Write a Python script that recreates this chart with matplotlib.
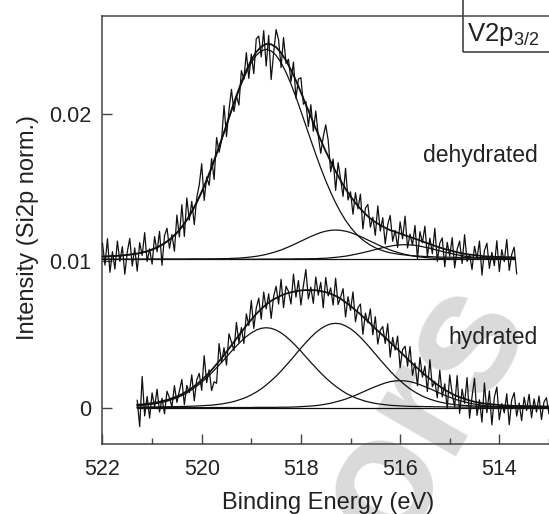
"""V2p3/2 XPS spectra (dehydrated / hydrated) with fitted components."""
import numpy as np
import matplotlib
matplotlib.use("Agg")
import matplotlib.pyplot as plt
from matplotlib.patches import Rectangle

plt.rcParams["font.family"] = ["Liberation Sans", "DejaVu Sans"]
plt.rcParams["mathtext.fontset"] = "custom"
plt.rcParams["mathtext.rm"] = "Liberation Sans"

SCALE = 1e-3  # all intensities below are in units of 1e-3 (Si2p norm.)

# ---- dehydrated: fit grid 522.0 -> 513.7 eV (0.1 eV), data 522.00 -> 513.65 eV (0.05 eV)
dehyd_fit_range = (522.0, 513.7)
dehyd_data_range = (522.0, 513.65)
dehyd_baseline = 10.1
dehyd_peak1 = [0.19, 0.20, 0.22, 0.24, 0.26, 0.30, 0.34, 0.39, 0.45, 0.54,
               0.65, 0.79, 0.97, 1.19, 1.46, 1.79, 2.19, 2.66, 3.21, 3.85,
               4.57, 5.36, 6.22, 7.15, 8.12, 9.10, 10.09, 11.05, 11.94, 12.73,
               13.39, 13.89, 14.19, 14.30, 14.19, 13.89, 13.39, 12.73, 11.94, 11.05,
               10.09, 9.10, 8.12, 7.15, 6.22, 5.36, 4.57, 3.85, 3.21, 2.66,
               2.19, 1.79, 1.46, 1.19, 0.97, 0.79, 0.65, 0.54, 0.45, 0.39,
               0.34, 0.30, 0.26, 0.24, 0.22, 0.20, 0.19, 0.17, 0.16, 0.15,
               0.15, 0.14, 0.13, 0.13, 0.12, 0.12, 0.11, 0.11, 0.10, 0.10,
               0.10, 0.09, 0.09, 0.08]
dehyd_peak2 = [0.01, 0.01, 0.01, 0.01, 0.01, 0.01, 0.01, 0.01, 0.02, 0.02,
               0.02, 0.02, 0.02, 0.02, 0.02, 0.02, 0.02, 0.02, 0.03, 0.03,
               0.03, 0.03, 0.04, 0.04, 0.05, 0.05, 0.07, 0.08, 0.10, 0.13,
               0.17, 0.21, 0.27, 0.34, 0.43, 0.53, 0.64, 0.78, 0.92, 1.08,
               1.24, 1.40, 1.56, 1.70, 1.83, 1.92, 1.98, 2.00, 1.98, 1.92,
               1.83, 1.70, 1.56, 1.40, 1.24, 1.08, 0.92, 0.78, 0.64, 0.53,
               0.43, 0.34, 0.27, 0.21, 0.17, 0.13, 0.10, 0.08, 0.07, 0.05,
               0.05, 0.04, 0.04, 0.03, 0.03, 0.03, 0.03, 0.02, 0.02, 0.02,
               0.02, 0.02, 0.02, 0.02]
dehyd_peak3 = [0.00, 0.00, 0.00, 0.00, 0.00, 0.00, 0.00, 0.00, 0.00, 0.00,
               0.01, 0.01, 0.01, 0.01, 0.01, 0.01, 0.01, 0.01, 0.01, 0.01,
               0.01, 0.01, 0.01, 0.01, 0.01, 0.01, 0.01, 0.01, 0.01, 0.01,
               0.01, 0.01, 0.02, 0.02, 0.02, 0.02, 0.03, 0.03, 0.03, 0.04,
               0.04, 0.04, 0.05, 0.05, 0.07, 0.08, 0.11, 0.14, 0.18, 0.22,
               0.28, 0.35, 0.42, 0.50, 0.58, 0.67, 0.76, 0.83, 0.90, 0.96,
               0.99, 1.00, 0.99, 0.96, 0.90, 0.83, 0.76, 0.67, 0.58, 0.50,
               0.42, 0.35, 0.28, 0.22, 0.18, 0.14, 0.11, 0.08, 0.07, 0.05,
               0.05, 0.04, 0.04, 0.03]
dehyd_data = [11.20, 9.71, 11.51, 9.22, 10.63, 9.44, 11.35, 9.96, 10.97, 9.09,
              10.61, 11.53, 9.65, 10.88, 9.30, 11.24, 10.37, 11.92, 9.96, 10.82,
              9.78, 11.65, 10.62, 12.01, 9.70, 11.71, 12.22, 10.86, 11.79, 10.66,
              13.12, 11.62, 13.82, 11.66, 14.29, 12.77, 14.05, 12.47, 14.29, 15.15,
              16.61, 14.11, 15.70, 15.14, 16.97, 15.54, 18.40, 17.39, 18.18, 20.57,
              18.46, 20.27, 21.67, 20.16, 21.24, 20.60, 22.95, 22.36, 24.17, 22.42,
              24.07, 22.74, 25.11, 25.30, 23.88, 25.67, 23.26, 25.35, 22.34, 24.14,
              25.74, 25.05, 23.16, 25.20, 23.44, 23.72, 22.19, 23.53, 21.07, 22.37,
              22.47, 20.66, 20.84, 19.14, 20.63, 18.82, 20.20, 18.51, 17.32, 18.44,
              19.26, 18.21, 16.06, 16.93, 14.79, 16.68, 15.57, 14.39, 16.30, 14.15,
              14.70, 13.17, 14.64, 13.54, 14.54, 12.17, 13.59, 13.84, 12.29, 12.97,
              11.74, 13.74, 12.03, 12.94, 11.15, 12.47, 13.09, 11.34, 12.08, 10.92,
              12.66, 11.50, 13.04, 10.88, 11.82, 11.07, 12.41, 10.15, 11.99, 11.23,
              12.36, 10.31, 11.55, 10.49, 12.22, 9.97, 11.21, 11.56, 9.60, 11.26,
              10.32, 11.58, 9.53, 10.79, 11.35, 9.82, 11.78, 9.96, 10.43, 9.41,
              10.99, 10.17, 11.35, 9.03, 10.71, 11.20, 9.49, 10.58, 9.67, 11.37,
              9.27, 10.76, 9.95, 11.45, 9.35, 10.44, 10.93, 9.12]

# ---- hydrated: fit grid 521.3 -> 512.8 eV (0.1 eV), data 521.30 -> 512.80 eV (0.05 eV)
hyd_fit_range = (521.3, 512.8)
hyd_data_range = (521.3, 512.8)
hyd_baseline = 0.0
hyd_peak1 = [0.15, 0.17, 0.21, 0.25, 0.30, 0.37, 0.45, 0.56, 0.68, 0.83,
             1.01, 1.23, 1.47, 1.74, 2.04, 2.37, 2.73, 3.09, 3.47, 3.85,
             4.21, 4.55, 4.85, 5.10, 5.29, 5.41, 5.45, 5.41, 5.29, 5.10,
             4.85, 4.55, 4.21, 3.85, 3.47, 3.09, 2.73, 2.37, 2.04, 1.74,
             1.47, 1.23, 1.01, 0.83, 0.68, 0.56, 0.45, 0.37, 0.30, 0.25,
             0.21, 0.17, 0.15, 0.13, 0.11, 0.10, 0.09, 0.09, 0.08, 0.08,
             0.07, 0.07, 0.06, 0.06, 0.05, 0.05, 0.05, 0.05, 0.04, 0.04,
             0.04, 0.04, 0.04, 0.03, 0.03, 0.03, 0.03, 0.03, 0.03, 0.03,
             0.03, 0.02, 0.02, 0.02, 0.02, 0.02]
hyd_peak2 = [0.05, 0.05, 0.05, 0.06, 0.06, 0.07, 0.07, 0.08, 0.08, 0.09,
             0.10, 0.11, 0.12, 0.14, 0.16, 0.18, 0.22, 0.26, 0.32, 0.39,
             0.48, 0.59, 0.72, 0.88, 1.07, 1.29, 1.55, 1.84, 2.15, 2.50,
             2.88, 3.26, 3.66, 4.06, 4.44, 4.80, 5.12, 5.38, 5.58, 5.71,
             5.75, 5.71, 5.58, 5.38, 5.12, 4.80, 4.44, 4.06, 3.66, 3.26,
             2.88, 2.50, 2.15, 1.84, 1.55, 1.29, 1.07, 0.88, 0.72, 0.59,
             0.48, 0.39, 0.32, 0.26, 0.22, 0.18, 0.16, 0.14, 0.12, 0.11,
             0.10, 0.09, 0.08, 0.08, 0.07, 0.07, 0.06, 0.06, 0.06, 0.06,
             0.05, 0.05, 0.05, 0.05, 0.04, 0.04]
hyd_peak3 = [0.01, 0.01, 0.01, 0.01, 0.01, 0.01, 0.01, 0.01, 0.01, 0.01,
             0.01, 0.01, 0.01, 0.01, 0.01, 0.02, 0.02, 0.02, 0.02, 0.02,
             0.02, 0.02, 0.02, 0.02, 0.03, 0.03, 0.03, 0.03, 0.03, 0.04,
             0.04, 0.05, 0.06, 0.08, 0.10, 0.12, 0.15, 0.19, 0.25, 0.31,
             0.40, 0.49, 0.59, 0.72, 0.85, 1.00, 1.15, 1.30, 1.44, 1.57,
             1.69, 1.78, 1.83, 1.85, 1.83, 1.78, 1.69, 1.57, 1.44, 1.30,
             1.15, 1.00, 0.85, 0.72, 0.59, 0.49, 0.40, 0.31, 0.25, 0.19,
             0.15, 0.12, 0.10, 0.08, 0.06, 0.05, 0.04, 0.04, 0.03, 0.03,
             0.03, 0.03, 0.02, 0.02, 0.02, 0.02]
hyd_data = [0.51, -1.28, 2.13, -0.55, 0.77, -0.70, 1.02, 0.05, 1.27, -0.29,
            0.65, -0.41, 1.13, 0.69, 0.05, 1.51, 0.37, 1.15, 1.93, 0.22,
            1.52, 1.03, 2.25, 0.47, 1.90, 2.34, 1.19, 3.55, 1.71, 2.59,
            1.17, 1.77, 1.67, 4.37, 3.07, 4.09, 2.91, 5.04, 4.46, 3.89,
            5.81, 4.44, 5.46, 4.38, 6.39, 5.60, 7.30, 5.40, 6.79, 7.46,
            6.03, 7.88, 6.73, 7.76, 6.08, 7.58, 8.27, 7.06, 8.74, 6.81,
            8.27, 7.92, 7.06, 9.10, 7.53, 8.66, 6.99, 8.30, 9.41, 7.41,
            8.21, 7.11, 8.90, 7.67, 8.54, 6.81, 8.87, 7.62, 8.16, 6.99,
            8.82, 7.03, 7.53, 8.11, 6.18, 7.56, 6.63, 7.89, 5.85, 6.81,
            7.06, 5.00, 6.44, 5.79, 6.73, 4.97, 6.20, 4.34, 5.28, 5.53,
            4.38, 5.72, 3.45, 4.79, 3.93, 4.88, 2.72, 3.96, 4.19, 2.83,
            4.17, 2.21, 3.05, 1.50, 3.44, 2.09, 2.84, 1.11, 3.27, 1.44,
            1.80, 0.68, 2.56, 0.75, 1.63, -0.06, 2.24, 0.95, 0.06, 2.19,
            -0.38, 1.27, 0.31, 2.06, -0.70, 0.76, 2.01, -0.52, 0.54, -0.98,
            1.69, -0.33, 1.15, -1.16, 0.72, 1.41, -0.81, 0.28, -0.34, 0.96,
            -1.15, 0.54, 1.03, -0.57, 0.33, -0.87, 0.72, -0.18, 0.92, -0.68,
            0.61, -0.29, 0.80, -0.80, 0.39, 0.69, -0.41, 0.99, -0.52, 0.28, -0.22]

x_ticks = [522, 520, 518, 516, 514]
x_minor = [521, 519, 517, 515, 513]
y_ticks = [0, 0.01, 0.02]
y_ticklabels = ["0", "0.01", "0.02"]


def draw_spectrum(ax, fit_range, data_range, baseline, peaks, data):
    e_fit = np.linspace(*fit_range, len(peaks[0]))
    e_data = np.linspace(*data_range, len(data))
    base = np.full(len(e_fit), baseline)
    ax.plot(e_data, np.asarray(data) * SCALE, color="#111111", lw=0.9, zorder=3)
    total = base.copy()
    for pk in peaks:
        pk = np.asarray(pk)
        total += pk
        ax.plot(e_fit, (base + pk) * SCALE, color="#111111", lw=0.9, zorder=4)
    ax.plot(e_fit, base * SCALE, color="#111111", lw=0.9, zorder=4)
    ax.plot(e_fit, total * SCALE, color="#111111", lw=1.3, zorder=4)


fig = plt.figure(figsize=(5.49, 5.14), dpi=100)
ax = fig.add_axes([0.1867, 0.136, 0.9035, 0.833])
ax.set_facecolor("none")

draw_spectrum(ax, dehyd_fit_range, dehyd_data_range, dehyd_baseline,
              [dehyd_peak1, dehyd_peak2, dehyd_peak3], dehyd_data)
draw_spectrum(ax, hyd_fit_range, hyd_data_range, hyd_baseline,
              [hyd_peak1, hyd_peak2, hyd_peak3], hyd_data)

ax.set_xlim(522, 512)
ax.set_ylim(-0.00247, 0.02667)
ax.set_xticks(x_ticks)
ax.set_xticks(x_minor, minor=True)
ax.set_yticks(y_ticks)
ax.set_yticklabels(y_ticklabels)
ax.tick_params(axis="both", which="major", direction="in", length=7,
               width=1.0, color="#444444", labelsize=15.5, labelcolor="#222222")
ax.tick_params(axis="x", which="major", pad=11)
ax.tick_params(axis="y", which="major", pad=8)
ax.tick_params(axis="x", which="minor", direction="in", length=4.5,
               width=1.0, color="#444444")
for s in ax.spines.values():
    s.set_color("#444444")
    s.set_linewidth(1.1)

ax.set_xlabel("Binding Energy (eV)", fontsize=17, color="#222222")
ax.xaxis.set_label_coords(0.454, -0.113)
ax.set_ylabel("Intensity (Si2p norm.)", fontsize=17, color="#222222")
ax.yaxis.set_label_coords(-0.128, 0.506)

ax.text(0.646, 0.675, "dehydrated", transform=ax.transAxes, fontsize=16.5,
        ha="left", va="center", color="#222222")
ax.text(0.697, 0.248, "hydrated", transform=ax.transAxes, fontsize=16.5,
        ha="left", va="center", color="#222222")

ax.add_patch(Rectangle((0.726, 0.916), 0.4, 0.2, transform=ax.transAxes,
                       fill=False, edgecolor="#333333", lw=1.1, clip_on=False))
ax.text(0.735, 0.957, "V2p$_{3/2}$", transform=ax.transAxes, fontsize=18.5,
        ha="left", va="center", color="#222222")

# faint diagonal watermark behind the spectra
ax.text(0.645, 0.075, "ors", transform=ax.transAxes, fontsize=125,
        fontweight="bold", rotation=60, ha="center", va="center",
        color="#dadada", zorder=0, clip_on=False)

fig.savefig("out.png", dpi=100)
